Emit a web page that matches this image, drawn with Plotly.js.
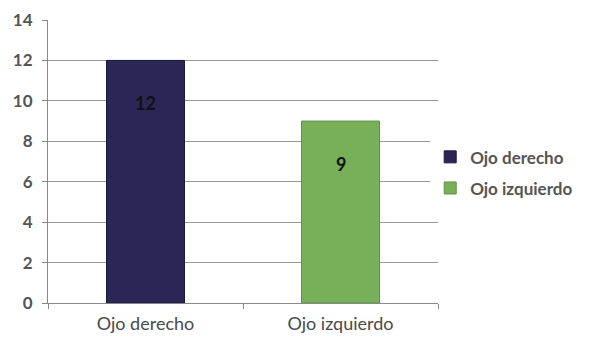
<!DOCTYPE html>
<html><head><meta charset="utf-8">
<script src="https://cdn.plot.ly/plotly-3.0.1.min.js"></script>
<style>body{margin:0;background:#fff}#c{width:602px;height:340px}</style>
</head><body><div id="c"></div>
<script>
const categories = ["Ojo derecho", "Ojo izquierdo"];
const seriesNames = ["Ojo derecho", "Ojo izquierdo"];
const values = [12, 9];
const colors = ["#2b2656", "#78b05a"];
const borders = ["#1c1a3a", "#5f9447"];
const yTicks = [0, 2, 4, 6, 8, 10, 12, 14];

const traces = seriesNames.map((n, i) => ({
  type: "bar", name: n, x: [categories[i]], y: [values[i]], width: 0.4,
  marker: {color: colors[i], line: {color: borders[i], width: 1}},
  legendgroup: "g" + i, hoverinfo: "none"
}));

const annotations = values.map((v, i) => ({
  x: categories[i], y: v - 2.1, xref: "x", yref: "y", text: String(v),
  showarrow: false, font: {family: "Lato, 'Open Sans', sans-serif", size: 18, color: "#111", weight: "bold"}
}));

Plotly.newPlot("c", traces, {
  width: 602, height: 340,
  margin: {l: 48, r: 164, t: 20, b: 37},
  paper_bgcolor: "#fff", plot_bgcolor: "#fff",
  barmode: "overlay",
  font: {family: "Lato, 'Open Sans', sans-serif", color: "#555", size: 14},
  xaxis: {type: "category", categoryarray: categories, showgrid: false, showline: true,
    linecolor: "#888", linewidth: 1, ticks: "outside", tickson: "boundaries", ticklen: 5,
    tickcolor: "#888", tickfont: {size: 18, color: "#4a4a4a"}, ticklabelstandoff: 4},
  yaxis: {range: [0, 14], tickvals: yTicks, showgrid: true, gridcolor: "#999", gridwidth: 1,
    showline: true, linecolor: "#888", ticks: "outside", ticklen: 5, tickcolor: "#888",
    zeroline: false, tickfont: {size: 17, color: "#555", weight: "bold"}, ticklabelstandoff: 6},
  legend: {x: 0.98, y: 0.46, yanchor: "middle", font: {size: 17, color: "#555", weight: "bold"},
    tracegroupgap: 6, itemwidth: 30},
  showlegend: true,
  annotations: annotations
}, {staticPlot: true});
</script></body></html>
